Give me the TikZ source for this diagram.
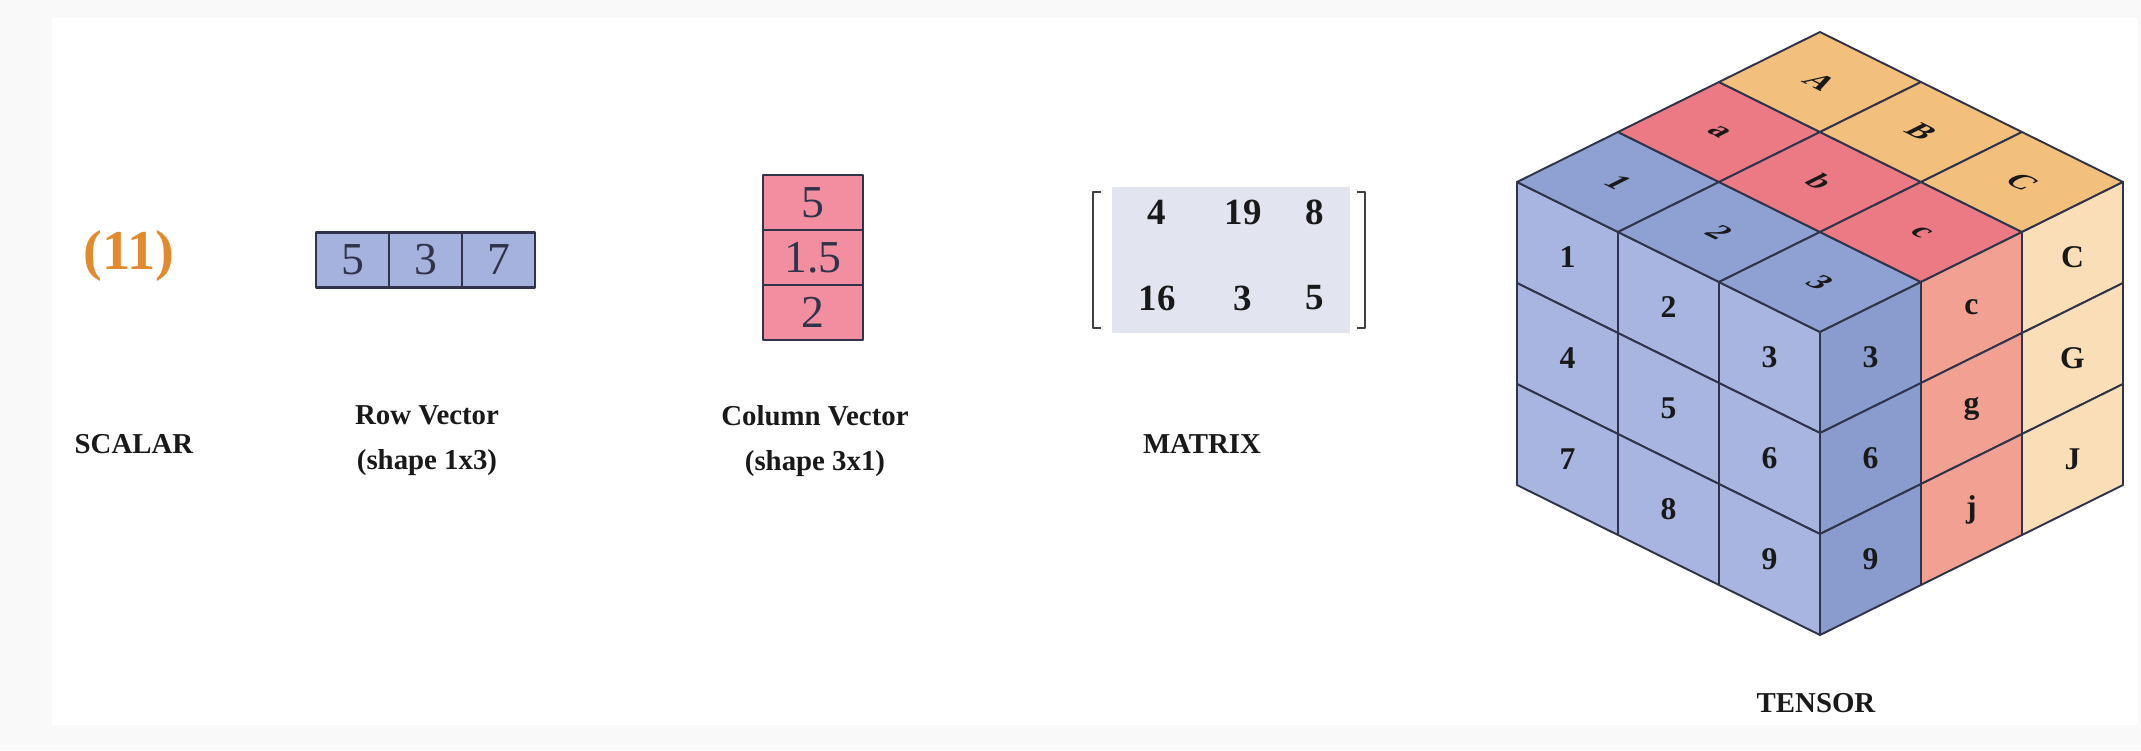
\documentclass[tikz,border=0pt]{standalone}
\usepackage{fontspec}
\setmainfont{Liberation Serif}
\definecolor{edge}{RGB}{48,52,74}
\definecolor{scal}{RGB}{226,138,44}
\definecolor{rowblue}{RGB}{166,178,222}
\definecolor{colpink}{RGB}{242,142,160}
\definecolor{matbg}{RGB}{226,229,240}
\definecolor{bluel}{RGB}{168,181,224}
\definecolor{bluet}{RGB}{143,161,211}
\definecolor{bluer}{RGB}{138,156,206}
\definecolor{redt}{RGB}{236,122,132}
\definecolor{redr}{RGB}{241,160,146}
\definecolor{orat}{RGB}{242,192,124}
\definecolor{orar}{RGB}{250,222,184}
\definecolor{paper}{RGB}{249,249,249}
\begin{document}
\begin{tikzpicture}[x=0.01cm,y=-0.01cm,line join=round,line cap=round,
    shapelbl/.style={font=\fontsize{8.2}{12.8}\selectfont\bfseries,align=center,text=black!90},
    rowcell/.style={draw=edge,line width=0.7pt,fill=rowblue,minimum width=0.73cm,minimum height=0.55cm,
      inner sep=0pt,font=\fontsize{13}{13}\selectfont,text=edge},
    colcell/.style={rowcell,fill=colpink,minimum width=1cm},
    matentry/.style={font=\fontsize{10.5}{10.5}\selectfont\bfseries,text=black!90},
    brk/.style={draw=black!75,line width=0.8pt,line cap=butt},
    face/.style={draw=edge,line width=0.55pt},
    cubelbl/.style={font=\fontsize{9}{9}\selectfont\bfseries,text=black!90,inner sep=0pt},
    toplbl/.style={cubelbl,cm={0.894,-0.447,0.894,0.447,(0,0)}}]
  \useasboundingbox (0,0) rectangle (2141,750);
  \fill[paper] (0,0) rectangle (2141,750);
  \fill[white] (52,18) rectangle (2138,725);
  % scalar
  \node[font=\fontsize{16}{16}\selectfont\bfseries,text=scal] (scalar) at (129,256) {(11)};
  \node[shapelbl] (scalarlbl) at (134,444) {SCALAR};
  % row vector
  \foreach \v [count=\i] in {5,3,7}
    \node[rowcell] (row\i) at ({316+73*\i-36.5},260) {\v};
  \node[shapelbl] (rowlbl) at (427,441) {Row Vector\\(shape 1x3)};
  % column vector
  \foreach \v [count=\i] in {5,1.5,2}
    \node[colcell] (col\i) at (813,{175+55*\i-27.5}) {\v};
  \node[shapelbl] (collbl) at (815,441) {Column Vector\\(shape 3x1)};
  % matrix
  \fill[matbg] (1112,187) rectangle (1350,333);
  \draw[brk] (1101,192) -- (1093,192) -- (1093,328) -- (1101,328);
  \draw[brk] (1357,192) -- (1365,192) -- (1365,328) -- (1357,328);
  \foreach \v/\x/\y [count=\k] in {4/1157/212,19/1243/212,8/1315/212,16/1157/298,3/1243/298,5/1315/298}
    \node[matentry] (m\k) at (\x,\y) {\v};
  \node[shapelbl] (matlbl) at (1202,444) {MATRIX};
  % tensor: front slab
  \foreach \t [count=\n from 0] in {1,...,9}{
    \pgfmathtruncatemacro\ci{mod(\n,3)}
    \pgfmathtruncatemacro\ri{\n/3}
    \filldraw[face,fill=bluel] ({1517+101*\ci},{182+50*\ci+101*\ri}) -- ++(101,50) -- ++(0,101) -- ++(-101,-50) -- cycle;
    \node[cubelbl] (lf\t) at ({1567.5+101*\ci},{257.5+50*\ci+101*\ri}) {\t};
  }
  % tensor: top
  \foreach \fc/\lbls [count=\j from 0] in {bluet/{1,2,3},redt/{a,b,c},orat/{A,B,C}}
    \foreach \t [count=\i from 0] in \lbls {
      \filldraw[face,fill=\fc] ({1517+101*\i+101*\j},{182+50*\i-50*\j}) -- ++(101,50) -- ++(101,-50) -- ++(-101,-50) -- cycle;
      \node[toplbl] (tp\j\i) at ({1618+101*\i+101*\j},{182+50*\i-50*\j}) {\t};
    }
  % tensor: right side
  \foreach \fc/\lbls [count=\j from 0] in {bluer/{3,6,9},redr/{c,g,j},orar/{C,G,J}}
    \foreach \t [count=\ri from 0] in \lbls {
      \filldraw[face,fill=\fc] ({1820+101*\j},{332-50*\j+101*\ri}) -- ++(101,-50) -- ++(0,101) -- ++(-101,50) -- cycle;
      \node[cubelbl] (rt\j\ri) at ({1870.5+101*\j},{357.5-50*\j+101*\ri}) {\t};
    }
  \node[shapelbl] (tenlbl) at (1816,703) {TENSOR};
\end{tikzpicture}
\end{document}
